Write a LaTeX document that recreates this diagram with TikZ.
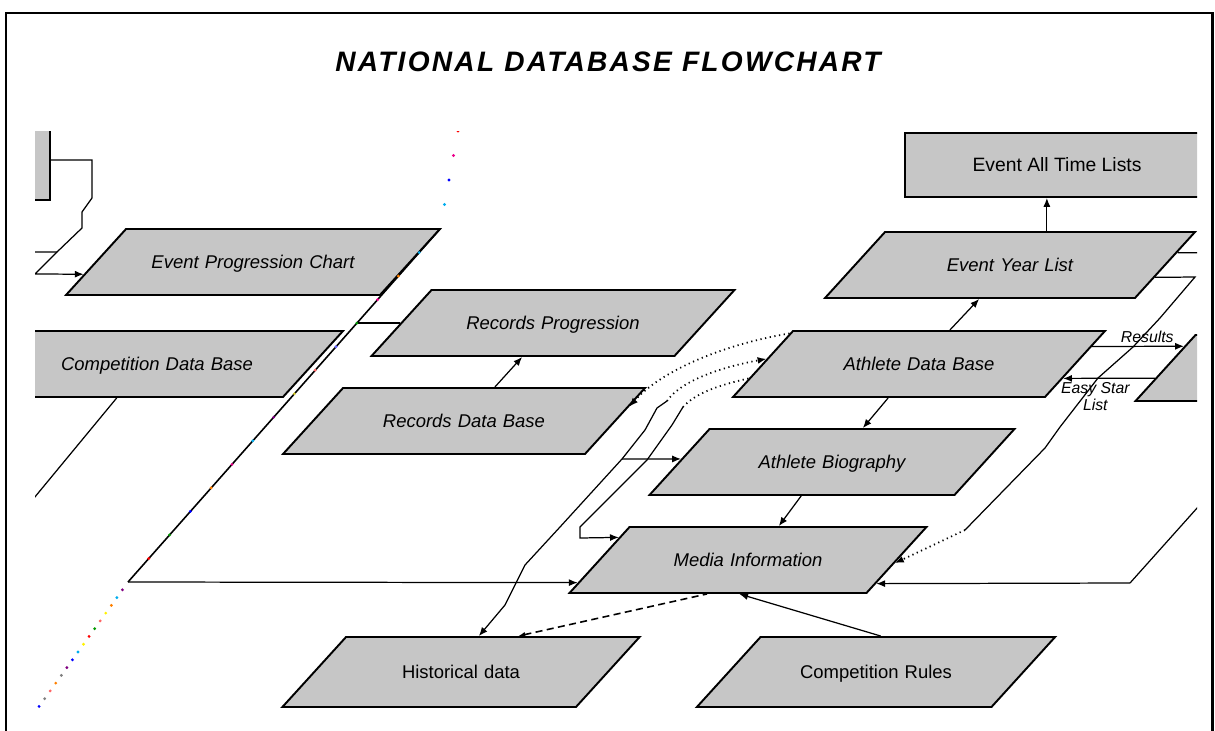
\documentclass[tikz,border=0pt]{standalone}
\usepackage{fontspec}
\setmainfont{Liberation Sans}
\usetikzlibrary{calc}
\usetikzlibrary{arrows.meta}
\usetikzlibrary{shapes.geometric}

\definecolor{boxgray}{RGB}{198,198,198}

\tikzset{
  para/.style={trapezium, trapezium left angle=47.73, trapezium right angle=132.27,
    draw, line width=1.1pt, fill=boxgray, inner sep=0pt, align=center,
    text width=#1, text height=0.79cm, text depth=0.53cm,
    font=\itshape\fontsize{10.5}{12}\selectfont},
  tall/.style={text height=0.83cm, text depth=0.57cm},
  upright/.style={font=\fontsize{10.5}{12}\selectfont},
  rectbox/.style={rectangle, draw, line width=1.1pt, fill=boxgray, inner sep=0pt},
  conn/.style={line width=0.7pt},
  flow/.style={conn, -{Latex[length=5pt,width=4pt]}},
  dotflow/.style={flow, dotted, line width=1pt},
  dashflow/.style={flow, dash pattern=on 4pt off 2.5pt, line width=0.9pt},
  lbl/.style={font=\itshape\fontsize{9}{9.5}\selectfont, inner sep=1pt, align=center}
}

\begin{document}
\begin{tikzpicture}[x=0.02cm,y=-0.02cm]
\useasboundingbox (0,0) rectangle (1215,731);
\draw[line width=1.7pt] (6,731) -- (6,13) -- (1212,13) -- (1212,731);
\node (title) at (608,62) {\bfseries\itshape\fontsize{16}{18}\selectfont\addfontfeatures{LetterSpace=8}NATIONAL DATABASE FLOWCHART};

\begin{scope}
\clip (35,131) rectangle (1197,712);

\node[rectbox, minimum width=3cm, minimum height=1.6cm] (tlbox) at (-25,160) {};
\node[rectbox, minimum width=6.08cm, minimum height=1.28cm, font=\fontsize{11}{12}\selectfont] (eatl) at (1057,165) {\raisebox{-2pt}{Event All Time Lists}};

\node[para=5.08cm] (epc) at (253,262) {Event Progression Chart};
\node[para=5.04cm] (cdb) at (157,364) {Competition Data Base};
\node[para=4.86cm] (rp) at (553,323) {Records Progression};
\node[para=4.84cm] (rdb) at (464,421) {Records Data Base};
\node[para=5.00cm] (eyl) at (1010,265) {Event Year List};
\node[para=5.04cm] (adb) at (919,364) {Athlete Data Base};
\node[para=4.90cm] (ab) at (832,462) {Athlete Biography};
\node[para=4.74cm] (mi) at (748,560) {Media Information};
\node[para=4.60cm, tall, upright] (hd) at (461,672) {Historical data};
\node[para=4.62cm, tall, upright] (cr) at (876,672) {Competition Rules};
\node[para=4.90cm] (rbox) at (1318,368) {};

\coordinate (rb0) at (28,722);
\coordinate (rb1) at (128,582);
\coordinate (rb2) at (357,323);
\coordinate (rb3) at (440,229);
\coordinate (rb4) at (458,131);

\draw[conn] (tlbox.east) -| (92,198) -- (82,212) -- (82,228) -- (57,252) -- (20,252);
\draw[flow] (57,252) -- (35,274) -- ($(epc.top left corner)!0.68!(epc.bottom left corner)$);
\draw[conn] ($(cdb.bottom left corner)!0.47!(cdb.bottom right corner)$) -- (20,515);

\draw[conn, line width=0.9pt] (rb1) -- (rb2) -- (rb3);
\draw[conn] (rb2) -- (rp.left side);
\foreach \c [count=\i] in {red,green!60!black,blue,orange,magenta,cyan,violet,yellow!80!black,red!60,blue!60,green!60!black,magenta,orange,cyan}
  \fill[\c] ($(rb1)!\i/15!(rb3)$) circle (0.9pt);
\foreach \c [count=\i] in {violet,cyan,orange,yellow,red!60,green!60!black,red,yellow,cyan,blue,violet,gray,orange,red!60,gray,blue,cyan}
  \fill[\c] ($(rb1)!\i/18!(rb0)$) circle (0.9pt);
\foreach \c [count=\i] in {cyan,blue,magenta,red}
  \fill[\c] ($(rb3)!\i/4!(rb4)$) circle (0.9pt);
\draw[flow] (rb1) -- ($(mi.top left corner)!0.833!(mi.bottom left corner)$);

\draw[flow] (rdb.top side) -- (rp.bottom side);
\draw[flow] (adb.top side) -- (eyl.bottom side);
\draw[flow] ($(eyl.top side)+(6,0)$) -- ($(eyl.top side |- eatl.south)+(6,0)$);
\draw[flow] (adb.bottom side) -- (ab.top side);
\draw[flow] (ab.bottom side) -- (mi.top side);

\draw[flow] ($(adb.top right corner)!0.242!(adb.bottom right corner)$) -- node[lbl, above=1pt, pos=0.6] {Results} ($(rbox.top left corner)!0.18!(rbox.bottom left corner)$);
\draw[flow] ($(rbox.top left corner)!0.65!(rbox.bottom left corner)$) -- node[lbl, below=1pt, pos=0.65] {Easy Star\\List} ($(adb.top right corner)!0.712!(adb.bottom right corner)$);

\coordinate (ey1) at (965,530);
\draw[conn] ($(eyl.top right corner)!0.318!(eyl.bottom right corner)$) -- (1215,253);
\draw[conn] ($(eyl.top right corner)!0.682!(eyl.bottom right corner)$) -- (1195,277) -- (1160,318) -- (1133,347) -- (1098,378) -- (1060,427) -- (1045,448) -- (ey1);
\draw[dotflow] (ey1) -- ($(mi.top right corner)!0.545!(mi.bottom right corner)$);

\coordinate (mr1) at (1130,583);
\draw[conn] (1215,488) -- (mr1);
\draw[flow] (mr1) -- ($(mi.top right corner)!0.848!(mi.bottom right corner)$);

\draw[dashflow, {Latex[length=4pt,width=3pt]}-] ($(hd.top left corner)!0.583!(hd.top right corner)$) -- ($(mi.bottom left corner)!0.466!(mi.bottom right corner)$);
\draw[flow] ($(cr.top left corner)!0.406!(cr.top right corner)$) -- ($(mi.bottom left corner)!0.574!(mi.bottom right corner)$);

\draw[dotflow] ($(adb.top left corner)!0.05!(adb.bottom left corner)$) .. controls (720,345) and (660,372) .. ($(rdb.top right corner)!0.288!(rdb.bottom right corner)$);

\coordinate (la1) at (667,401);
\coordinate (la2) at (622,459);
\draw[dotflow] (la1) .. controls (680,382) and (717,368) .. ($(adb.top left corner)!0.424!(adb.bottom left corner)$);
\draw[flow] (la1) -- (657,408) -- (645,430) -- (la2) -- (560,527) -- (525,565) -- (505,605) -- ($(hd.top left corner)!0.45!(hd.top right corner)$);
\draw[flow] (la2) -- ($(ab.top left corner)!0.455!(ab.bottom left corner)$);

\coordinate (lb1) at (683,407);
\draw[conn, dotted, line width=1pt] (lb1) .. controls (695,394) and (715,386) .. ($(adb.top left corner)!0.712!(adb.bottom left corner)$);
\draw[flow] (lb1) -- (672,425) -- (647,460) -- (580,527) -- (580,538) -- ($(mi.top left corner)!0.167!(mi.bottom left corner)$);
\end{scope}
\end{tikzpicture}
\end{document}
